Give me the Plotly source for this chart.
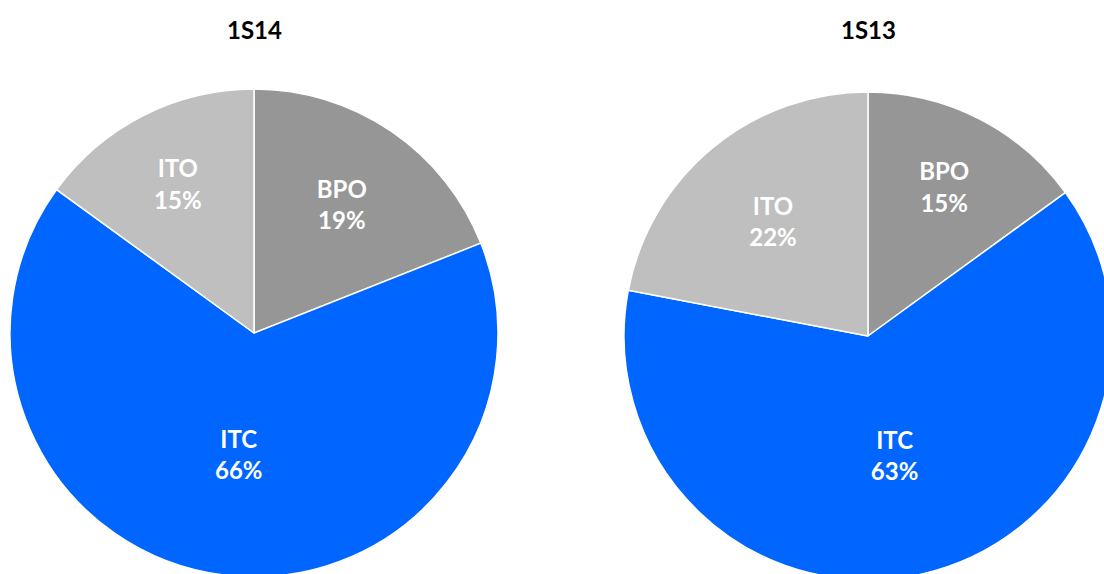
import plotly.graph_objects as go

categories = ["BPO", "ITC", "ITO"]
values_1s14 = [19, 66, 15]
values_1s13 = [15, 63, 22]
titles = ["1S14", "1S13"]
colors = ["#969696", "#0066ff", "#bfbfbf"]

W, H = 1120, 592
FONT = "Lato"

def dom(x0, x1, ytop, ybot):
    return dict(x=[x0 / W, x1 / W], y=[(H - ybot) / H, (H - ytop) / H])

fig = go.Figure()
for vals, d in [(values_1s14, dom(10, 498, 89, 577)),
                (values_1s13, dom(624, 1112, 92, 580))]:
    fig.add_trace(go.Pie(
        labels=categories, values=vals, sort=False, direction="clockwise",
        rotation=0, domain=d,
        marker=dict(colors=colors, line=dict(color="white", width=1.5)),
        texttemplate="%{label}<br>%{value}%", textposition="inside",
        insidetextorientation="horizontal",
        textfont=dict(family=FONT, size=24, color="white", weight="bold"),
        hoverinfo="label+percent", showlegend=False,
    ))

for t, xc in zip(titles, [254, 868]):
    fig.add_annotation(text="<b>%s</b>" % t, x=xc / W, y=(H - 29) / H,
                       xref="paper", yref="paper", showarrow=False,
                       font=dict(family=FONT, size=24, color="black"),
                       xanchor="center", yanchor="middle")

fig.update_layout(width=W, height=H, autosize=False,
                  margin=dict(l=0, r=0, t=0, b=0),
                  paper_bgcolor="white", plot_bgcolor="white")

fig.write_html("out.html", config={"displayModeBar": False}, post_script=(
    "document.body.style.margin='0';"
    "document.body.style.overflow='hidden';"
    "document.documentElement.style.overflow='hidden';"))
